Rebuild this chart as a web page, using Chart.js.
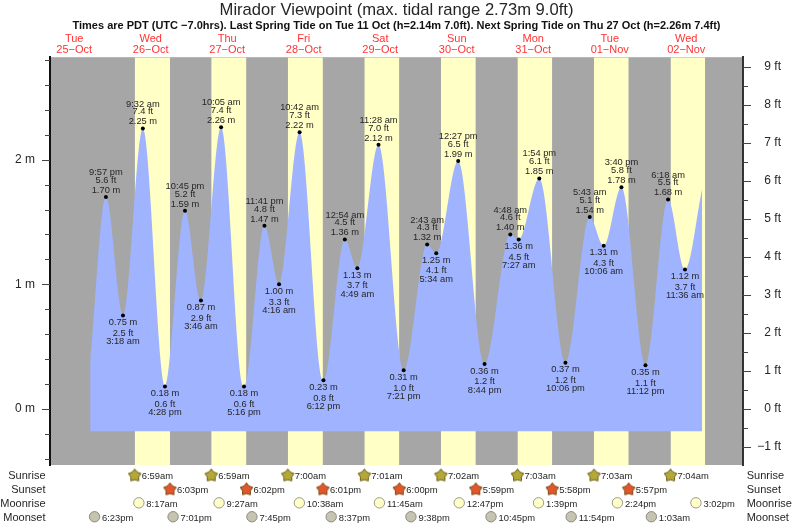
<!DOCTYPE html>
<html>
<head>
<meta charset="utf-8">
<title>Mirador Viewpoint tides</title>
<script src="https://cdn.jsdelivr.net/npm/chart.js@4/dist/chart.umd.min.js"></script>
<style>
    html, body { margin: 0; padding: 0; background: #fff; }
    canvas { display: block; }
</style>
</head>
<body>
<canvas id="tide-chart" width="793" height="525"></canvas>
<script>
// ---------------------------------------------------------------------------
// Data. Days count from Tue 25-Oct = 0.
// ---------------------------------------------------------------------------

const dayNames = ["Tue", "Wed", "Thu", "Fri", "Sat", "Sun", "Mon", "Tue", "Wed"];
const dayDates = ["25−Oct", "26−Oct", "27−Oct", "28−Oct", "29−Oct", "30−Oct", "31−Oct", "01−Nov", "02−Nov"];

const tideDays = [0, 1, 1, 1, 1, 2, 2, 2, 2, 3, 3, 3, 4, 4, 4, 4, 5, 5, 5, 5, 6, 6, 6, 6, 7, 7, 7, 7, 8, 8];
const tideTimes = [
    "9:57 pm", "3:18 am", "9:32 am", "4:28 pm", "10:45 pm", "3:46 am", "10:05 am", "5:16 pm",
    "11:41 pm", "4:16 am", "10:42 am", "6:12 pm", "12:54 am", "4:49 am", "11:28 am", "7:21 pm",
    "2:43 am", "5:34 am", "12:27 pm", "8:44 pm", "4:48 am", "7:27 am", "1:54 pm", "10:06 pm",
    "5:43 am", "10:06 am", "3:40 pm", "11:12 pm", "6:18 am", "11:36 am",
];
const tideMetres = [
    1.70, 0.75, 2.25, 0.18, 1.59, 0.87, 2.26, 0.18, 1.47, 1.00, 2.22, 0.23, 1.36, 1.13, 2.12, 0.31,
    1.32, 1.25, 1.99, 0.36, 1.40, 1.36, 1.85, 0.37, 1.54, 1.31, 1.78, 0.35, 1.68, 1.12,
];
const tideFeet = [
    5.6, 2.5, 7.4, 0.6, 5.2, 2.9, 7.4, 0.6, 4.8, 3.3, 7.3, 0.8, 4.5, 3.7, 7.0, 1.0,
    4.3, 4.1, 6.5, 1.2, 4.6, 4.5, 6.1, 1.2, 5.1, 4.3, 5.8, 1.1, 5.5, 3.7,
];

// the curve starts and stops between tides
const curveStart = { day: 0, time: "5:00 pm", metres: 0.37 };
const curveEnd = { day: 8, time: "5:00 pm", metres: 1.77 };
const curveFloor = -0.18;

const sunriseDays = [1, 2, 3, 4, 5, 6, 7, 8];
const sunriseTimes = ["6:59am", "6:59am", "7:00am", "7:01am", "7:02am", "7:03am", "7:03am", "7:04am"];
const sunsetDays = [1, 2, 3, 4, 5, 6, 7];
const sunsetTimes = ["6:03pm", "6:02pm", "6:01pm", "6:00pm", "5:59pm", "5:58pm", "5:57pm"];
const lastDusk = "5:56pm"; // end of the last yellow band, has no label in the sun rows

const moonriseDays = [1, 2, 3, 4, 5, 6, 7, 8];
const moonriseTimes = ["8:17am", "9:27am", "10:38am", "11:45am", "12:47pm", "1:39pm", "2:24pm", "3:02pm"];
const moonsetDays = [0, 1, 2, 3, 4, 5, 6, 8];
const moonsetTimes = ["6:23pm", "7:01pm", "7:45pm", "8:37pm", "9:38pm", "10:45pm", "11:54pm", "1:03am"];

const rowNames = ["Sunrise", "Sunset", "Moonrise", "Moonset"];

const metreTicks = [-0.4, -0.2, 0, 0.2, 0.4, 0.6, 0.8, 1, 1.2, 1.4, 1.6, 1.8, 2, 2.2, 2.4, 2.6, 2.8];
const feetTicks = [-1, -0.5, 0, 0.5, 1, 1.5, 2, 2.5, 3, 3.5, 4, 4.5, 5, 5.5, 6, 6.5, 7, 7.5, 8, 8.5, 9];

const titleText = "Mirador Viewpoint (max. tidal range 2.73m 9.0ft)";
const subtitleText = "Times are PDT (UTC −7.0hrs). Last Spring Tide on Tue 11 Oct (h=2.14m 7.0ft). Next Spring Tide on Thu 27 Oct (h=2.26m 7.4ft)";

// ---------------------------------------------------------------------------
// Helpers
// ---------------------------------------------------------------------------

const FONT = "'Liberation Sans', Arial, sans-serif";
const TEXT = "#262626";
const Y_MIN = -0.45;
const Y_MAX = 2.823;
const FT_PER_M = 3.2808;

function toHour(day, time) {
    const [, h, m, ap] = time.match(/(\d+):(\d+)\s*(am|pm)/);
    return day * 24 + (Number(h) % 12) + Number(m) / 60 + (ap === "pm" ? 12 : 0);
}

function rowPoints(days, times, row) {
    return days.map((d, i) => ({ x: toHour(d, times[i]), y: row }));
}

function makeStar(fill, stroke) {
    const c = document.createElement("canvas");
    c.width = 15;
    c.height = 15;
    const g = c.getContext("2d");
    g.beginPath();
    for (let i = 0; i < 10; i++) {
        const r = i % 2 ? 4.2 : 6.6;
        const a = -Math.PI / 2 + (i * Math.PI) / 5;
        g.lineTo(7.5 + r * Math.cos(a), 8 + r * Math.sin(a));
    }
    g.closePath();
    g.fillStyle = fill;
    g.strokeStyle = stroke;
    g.lineWidth = 1;
    g.fill();
    g.stroke();
    return c;
}

const tidePoints = tideDays.map((d, i) => ({ x: toHour(d, tideTimes[i]), y: tideMetres[i] }));
const curvePoints = [
    { x: toHour(curveStart.day, curveStart.time), y: curveStart.metres },
    ...tidePoints,
    { x: toHour(curveEnd.day, curveEnd.time), y: curveEnd.metres },
];

const bandPoints = [];
sunriseDays.forEach((d, i) => {
    const dusk = i < sunsetDays.length ? toHour(sunsetDays[i], sunsetTimes[i]) : toHour(d, lastDusk);
    bandPoints.push({ x: toHour(d, sunriseTimes[i]), y: Y_MAX }, { x: dusk, y: Y_MAX }, { x: dusk, y: null });
});

// ---------------------------------------------------------------------------
// Plugins: plot background, tick marks, tide labels, rows under the plot
// ---------------------------------------------------------------------------

const plotBackground = {
    id: "plotBackground",
    beforeDraw(chart) {
        const { ctx, chartArea: a } = chart;
        ctx.save();
        ctx.fillStyle = "#a6a6a6";
        ctx.fillRect(a.left, a.top, a.right - a.left, a.bottom - a.top);
        ctx.restore();
    },
};

const tickMarks = {
    id: "tickMarks",
    afterDraw(chart) {
        const { ctx, chartArea: a } = chart;
        const drawTicks = (scale, ticks, edge, dir) => {
            ticks.forEach((v) => {
                const y = Math.round(scale.getPixelForValue(v)) + 0.5;
                ctx.beginPath();
                ctx.moveTo(edge, y);
                ctx.lineTo(edge + dir * (Number.isInteger(v) ? 8 : 5), y);
                ctx.stroke();
            });
        };
        ctx.save();
        ctx.strokeStyle = "#444";
        ctx.lineWidth = 1;
        drawTicks(chart.scales.y, metreTicks, a.left, -1);
        drawTicks(chart.scales.ft, feetTicks, a.right, 1);
        ctx.restore();
    },
};

const tideLabels = {
    id: "tideLabels",
    afterDatasetsDraw(chart) {
        const { ctx } = chart;
        const pts = chart.getDatasetMeta(0).data;
        ctx.save();
        ctx.font = `9.3px ${FONT}`;
        ctx.fillStyle = TEXT;
        ctx.textAlign = "center";
        ctx.textBaseline = "middle";
        pts.forEach((p, i) => {
            const m = `${tideMetres[i].toFixed(2)} m`;
            const ft = `${tideFeet[i].toFixed(1)} ft`;
            const t = tideTimes[i];
            const prev = i > 0 ? tideMetres[i - 1] : 0;
            if (tideMetres[i] > prev) {
                ctx.fillText(m, p.x, p.y - 6.7);
                ctx.fillText(ft, p.x, p.y - 16.7);
                ctx.fillText(t, p.x, p.y - 24.5);
            } else {
                ctx.fillText(m, p.x, p.y + 7);
                ctx.fillText(ft, p.x, p.y + 17.7);
                ctx.fillText(t, p.x, p.y + 26);
            }
        });
        ctx.restore();
    },
};

const rowMarks = {
    id: "rowMarks",
    afterDraw(chart) {
        const { ctx, chartArea: a } = chart;
        const rows = chart.scales.yRows;
        const page = { left: 0, top: 0, right: chart.width, bottom: chart.height };
        ctx.save();

        // points below the plot area are skipped by the normal draw
        [3, 4, 5, 6].forEach((ds) => {
            chart.getDatasetMeta(ds).data.forEach((p) => p.draw(ctx, page));
        });

        ctx.fillStyle = TEXT;
        ctx.textBaseline = "middle";
        ctx.font = `11px ${FONT}`;
        rowNames.forEach((name, r) => {
            const y = rows.getPixelForValue(r) + 1;
            ctx.textAlign = "right";
            ctx.fillText(name, a.left - 4.5, y);
            ctx.textAlign = "left";
            ctx.fillText(name, a.right + 3.7, y);
        });

        ctx.font = `9.4px ${FONT}`;
        ctx.textAlign = "left";
        [
            [sunriseDays, sunriseTimes, 7],
            [sunsetDays, sunsetTimes, 7],
            [moonriseDays, moonriseTimes, 7.5],
            [moonsetDays, moonsetTimes, 7.5],
        ].forEach(([days, times, gap], r) => {
            days.forEach((d, i) => {
                const x = chart.scales.x.getPixelForValue(toHour(d, times[i]));
                ctx.fillText(times[i], x + gap, rows.getPixelForValue(r) + 1.5);
            });
        });
        ctx.restore();
    },
};

// ---------------------------------------------------------------------------
// Chart
// ---------------------------------------------------------------------------

const sunriseStar = makeStar("#b3a838", "#6e5f14");
const sunsetStar = makeStar("#e2562b", "#7a4a12");

function markerSet(points, style) {
    return Object.assign({ type: "line", data: points, showLine: false, yAxisID: "yRows", order: 0 }, style);
}

new Chart(document.getElementById("tide-chart").getContext("2d"), {
    type: "line",
    data: {
        datasets: [
            // tide extremes, the dots
            {
                data: tidePoints,
                showLine: false,
                pointRadius: 2,
                pointBackgroundColor: "#000",
                pointBorderWidth: 0,
                order: 1,
            },
            // water
            {
                data: curvePoints,
                cubicInterpolationMode: "monotone",
                borderWidth: 0,
                borderColor: "transparent",
                pointRadius: 0,
                backgroundColor: "#a0b3ff",
                fill: { value: curveFloor },
                order: 2,
            },
            // daylight
            {
                data: bandPoints,
                borderWidth: 0,
                borderColor: "transparent",
                pointRadius: 0,
                backgroundColor: "#ffffc6",
                fill: { value: Y_MIN },
                spanGaps: false,
                order: 3,
            },
            markerSet(rowPoints(sunriseDays, sunriseTimes, 0), { pointStyle: sunriseStar }),
            markerSet(rowPoints(sunsetDays, sunsetTimes, 1), { pointStyle: sunsetStar }),
            markerSet(rowPoints(moonriseDays, moonriseTimes, 2), {
                pointRadius: 5.2,
                pointBackgroundColor: "#ffffc8",
                pointBorderColor: "#9a9a8c",
                pointBorderWidth: 1,
            }),
            markerSet(rowPoints(moonsetDays, moonsetTimes, 3), {
                pointRadius: 5.2,
                pointBackgroundColor: "#c6c3b0",
                pointBorderColor: "#8c8c80",
                pointBorderWidth: 1,
            }),
        ],
    },
    options: {
        responsive: false,
        animation: false,
        devicePixelRatio: 1,
        layout: { padding: { left: 12, right: 12, top: 1, bottom: 60 } },
        plugins: {
            legend: { display: false },
            tooltip: { enabled: false },
            title: {
                display: true,
                text: titleText,
                color: TEXT,
                font: { family: FONT, size: 16.6, weight: "normal", lineHeight: 1.15 },
                padding: { top: 0, bottom: 0 },
            },
            subtitle: {
                display: true,
                text: subtitleText,
                color: "#111",
                font: { family: FONT, size: 11, weight: "bold", lineHeight: 1.1 },
                padding: { top: 0, bottom: 0 },
            },
        },
        scales: {
            x: {
                type: "linear",
                position: "top",
                min: 4.41,
                max: 221.8,
                grid: { display: false, drawTicks: false },
                border: { display: false },
                afterBuildTicks: (scale) => {
                    scale.ticks = dayNames.map((_, i) => ({ value: i * 24 + 12 }));
                },
                afterFit: (scale) => {
                    scale.height = 25;
                },
                ticks: {
                    autoSkip: false,
                    maxRotation: 0,
                    padding: 1,
                    color: "#ff3333",
                    font: { family: FONT, size: 11, lineHeight: 1.05 },
                    callback: (v) => {
                        const i = (v - 12) / 24;
                        return [dayNames[i], dayDates[i]];
                    },
                },
            },
            y: {
                position: "left",
                min: Y_MIN,
                max: Y_MAX,
                grid: { drawOnChartArea: false, drawTicks: false },
                border: { display: true, color: "#111", width: 2 },
                afterBuildTicks: (scale) => {
                    scale.ticks = metreTicks.map((v) => ({ value: v }));
                },
                afterFit: (scale) => {
                    scale.width = 38;
                },
                ticks: {
                    autoSkip: false,
                    padding: 15,
                    color: TEXT,
                    font: { family: FONT, size: 12 },
                    callback: (v) => (Number.isInteger(v) ? `${v} m` : ""),
                },
            },
            ft: {
                position: "right",
                min: Y_MIN * FT_PER_M,
                max: Y_MAX * FT_PER_M,
                grid: { drawOnChartArea: false, drawTicks: false },
                border: { display: true, color: "#333", width: 2 },
                afterBuildTicks: (scale) => {
                    scale.ticks = feetTicks.map((v) => ({ value: v }));
                },
                afterFit: (scale) => {
                    scale.width = 38;
                },
                ticks: {
                    autoSkip: false,
                    padding: 14,
                    crossAlign: "far",
                    color: TEXT,
                    font: { family: FONT, size: 12 },
                    callback: (v) => {
                        if (!Number.isInteger(v)) return "";
                        return v < 0 ? `−${-v} ft` : `${v} ft`;
                    },
                },
            },
            // rows under the plot: row number counts down the page
            yRows: {
                axis: "y",
                position: "left",
                display: false,
                reverse: true,
                min: -30.04,
                max: -0.72,
            },
        },
    },
    plugins: [plotBackground, tickMarks, tideLabels, rowMarks],
});
</script>
</body>
</html>
